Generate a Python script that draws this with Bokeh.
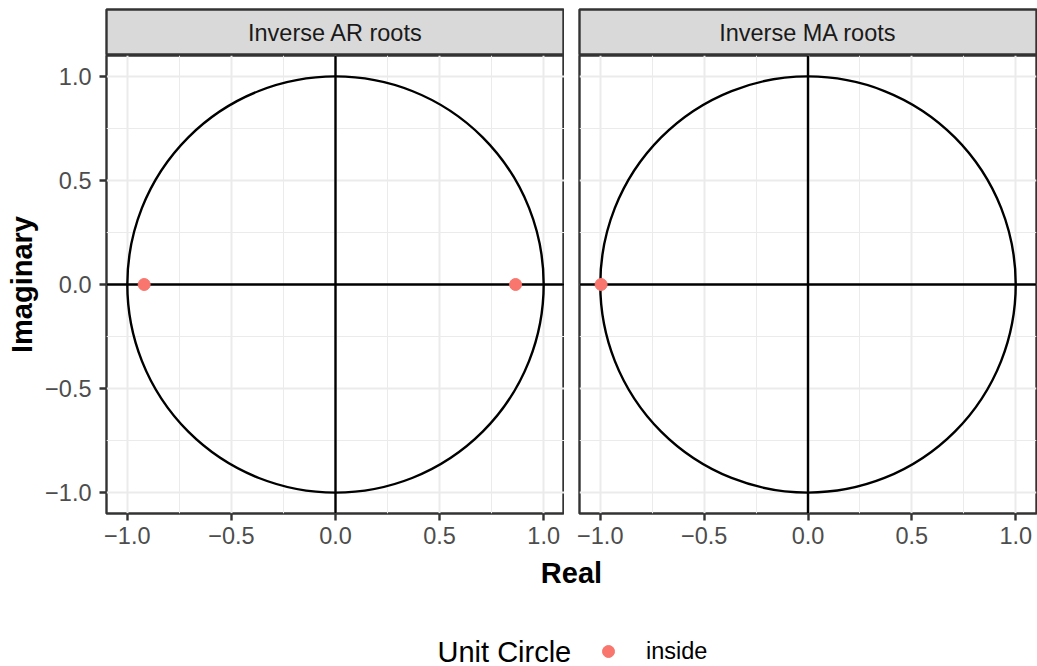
import numpy as np
from bokeh.plotting import figure
from bokeh.layouts import row, column
from bokeh.models import (Range1d, FixedTicker, Span, Legend, LegendItem,
                          ColumnDataSource, CustomJSTickFormatter)
from bokeh.core.properties import value
from bokeh.embed import file_html
from bokeh.resources import INLINE

# ---------------- data ----------------
panel_names = ["Inverse AR roots", "Inverse MA roots"]
ar_real = [-0.919, 0.865]
ar_imag = [0.0, 0.0]
ma_real = [-0.996]
ma_imag = [0.0]
status = "inside"
major_ticks = [-1.0, -0.5, 0.0, 0.5, 1.0]
minor_ticks = [-0.75, -0.25, 0.25, 0.75]
x_title = "Real"
y_title = "Imaginary"
legend_title = "Unit Circle"

FONT = "Liberation Sans"
PT_COLOR = "#F8766D"
SMALL = "23.5px"
BIG = "29px"
LW = 2.4

LABEL_W = 40
LEFT_B = 66
FRAME_WL = 458
GAP = 15
FRAME_WR = 457
RIGHT_B = 1
TOP_B = 9
STRIP_H = 46
FRAME_H = 458
BOTTOM_B = 41
TOTAL_H = 666

fmt = CustomJSTickFormatter(code="return tick.toFixed(1).replace('-', '\u2212');")


def strip(name, width, bl, br):
    s = figure(width=width, height=TOP_B + STRIP_H, x_range=Range1d(0, 1), y_range=Range1d(0, 1),
               output_backend="svg", toolbar_location=None, title=None,
               min_border_left=bl, min_border_right=br, min_border_top=TOP_B, min_border_bottom=0,
               x_axis_location=None, y_axis_location=None)
    s.background_fill_color = "#D9D9D9"
    s.border_fill_color = "white"
    s.outline_line_color = "#333333"
    s.outline_line_width = LW
    s.grid.visible = False
    s.text(x=[0.5], y=[0.5], text=[name], text_align="center", text_baseline="middle",
           text_font=value(FONT), text_font_size=SMALL, text_color="#1A1A1A")
    return s


def panel(re, im, width, bl, br, show_y):
    p = figure(width=width, height=FRAME_H + BOTTOM_B, x_range=Range1d(-1.1, 1.1),
               y_range=Range1d(-1.1, 1.1), output_backend="svg", toolbar_location=None,
               title=None, min_border_left=bl, min_border_right=br, min_border_top=0,
               min_border_bottom=BOTTOM_B)
    p.background_fill_color = "white"
    p.border_fill_color = "white"
    p.outline_line_color = "#333333"
    p.outline_line_width = LW
    for ax in p.axis:
        ax.ticker = FixedTicker(ticks=major_ticks, minor_ticks=minor_ticks)
        ax.formatter = fmt
        ax.axis_line_color = None
        ax.major_tick_line_color = "#333333"
        ax.major_tick_line_width = LW
        ax.major_tick_out = 7
        ax.major_tick_in = 0
        ax.minor_tick_line_color = None
        ax.major_label_text_font = FONT
        ax.major_label_text_font_size = SMALL
        ax.major_label_text_color = "#4D4D4D"
    p.xaxis.major_label_standoff = 6
    p.yaxis.major_label_standoff = 8
    if not show_y:
        p.yaxis.visible = False
    for g in p.grid:
        g.grid_line_color = "#EBEBEB"
        g.grid_line_width = 2
        g.minor_grid_line_color = "#EBEBEB"
        g.minor_grid_line_width = 1
    p.add_layout(Span(location=0, dimension="width", line_color="black", line_width=LW, level="underlay"))
    p.add_layout(Span(location=0, dimension="height", line_color="black", line_width=LW, level="underlay"))
    p.ellipse(x=0, y=0, width=2, height=2, fill_color=None, line_color="black", line_width=LW)
    src = ColumnDataSource(dict(x=re, y=im, s=[status] * len(re)))
    p.scatter(x="x", y="y", source=src, size=12, fill_color=PT_COLOR, line_color=PT_COLOR)
    return p


wl = LEFT_B + FRAME_WL
wr = GAP + FRAME_WR + RIGHT_B
strip_l = strip(panel_names[0], wl, LEFT_B, 0)
strip_r = strip(panel_names[1], wr, GAP, RIGHT_B)
panel_l = panel(ar_real, ar_imag, wl, LEFT_B, 0, True)
panel_r = panel(ma_real, ma_imag, wr, GAP, RIGHT_B, False)

top_h = TOP_B + STRIP_H + FRAME_H + BOTTOM_B
lab = figure(width=LABEL_W, height=top_h, x_range=Range1d(0, LABEL_W), y_range=Range1d(top_h, 0),
             output_backend="svg", toolbar_location=None, title=None, min_border=0,
             x_axis_location=None, y_axis_location=None, outline_line_color=None)
lab.grid.visible = False
lab.text(x=[21], y=[TOP_B + STRIP_H + FRAME_H / 2], text=[y_title], angle=np.pi / 2,
         text_align="center", text_baseline="middle", text_font=value(FONT),
         text_font_size=BIG, text_font_style="bold", text_color="black")

total_w = LABEL_W + wl + wr
bot_h = TOTAL_H - top_h
bot = figure(width=total_w, height=bot_h, x_range=Range1d(0, total_w), y_range=Range1d(0, bot_h),
             output_backend="svg", toolbar_location=None, title=None, min_border=0,
             x_axis_location=None, y_axis_location=None, outline_line_color=None)
bot.grid.visible = False
cx = LABEL_W + LEFT_B + (FRAME_WL + GAP + FRAME_WR) / 2
bot.text(x=[cx], y=[bot_h - 18], text=[x_title], text_align="center", text_baseline="middle",
         text_font=value(FONT), text_font_size=BIG, text_font_style="bold", text_color="black")
leg_y = 666 - 651
bot.text(x=[cx - 134], y=[leg_y], text=[legend_title], text_align="left", text_baseline="middle",
         text_font=value(FONT), text_font_size=BIG, text_color="black")
key = bot.scatter(x=[np.nan], y=[np.nan], size=12, fill_color=PT_COLOR, line_color=PT_COLOR)
leg = Legend(items=[LegendItem(label=status, renderers=[key])], location=(cx + 22, leg_y - 15),
             orientation="horizontal", glyph_width=30, glyph_height=30, label_standoff=23,
             padding=0, margin=0, spacing=0, border_line_color=None, background_fill_alpha=0,
             label_text_font=FONT, label_text_font_size=SMALL, label_text_color="black",
             label_height=30)
bot.add_layout(leg, "center")

layout = column(row(lab, column(strip_l, panel_l), column(strip_r, panel_r)), bot)

open("out.html", "w").write(file_html(layout, INLINE))
